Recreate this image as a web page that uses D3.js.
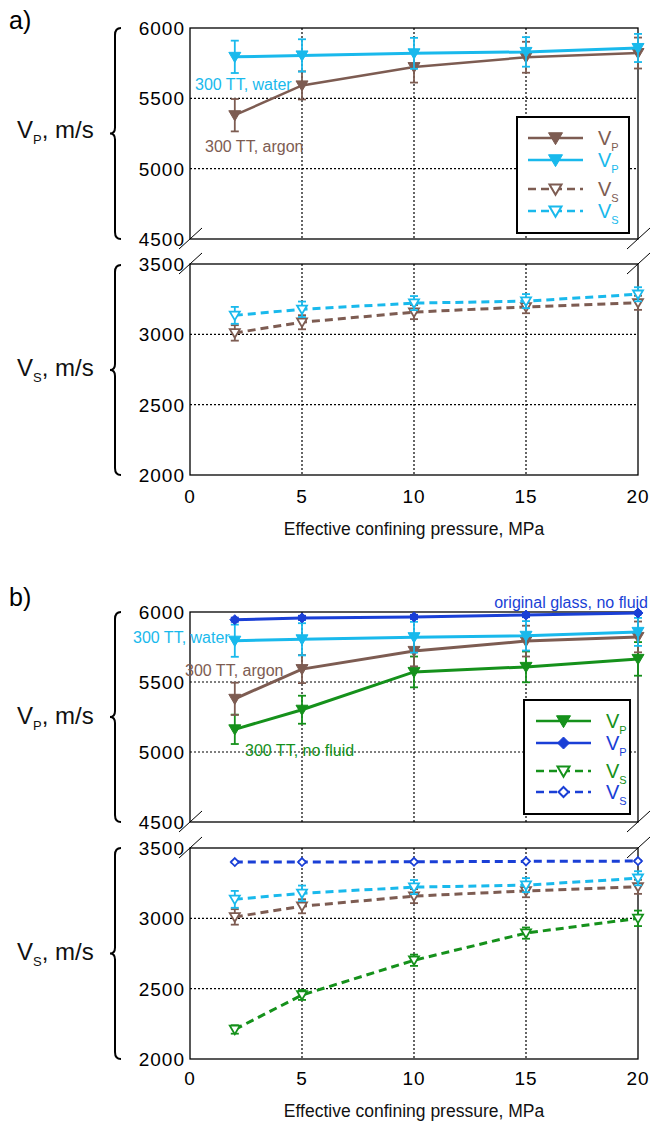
<!DOCTYPE html>
<html><head><meta charset="utf-8">
<script src="https://cdn.jsdelivr.net/npm/d3@7"></script>
<style>
body{margin:0;background:#fff;}
text{font-family:"Liberation Sans",Arial,sans-serif;}
</style></head>
<body><svg id="c" width="651" height="1125"></svg>
<script>
// ---------- data ----------
const pressure = [2, 5, 10, 15, 20];
const xTicks = [0, 5, 10, 15, 20];
const vpTicks = [4500, 5000, 5500, 6000];
const vsTicks = [2000, 2500, 3000, 3500];

const vpWater = [5795, 5805, 5820, 5830, 5858];
const vpWaterErr = [115, 115, 110, 105, 100];
const vpArgon = [5380, 5592, 5722, 5792, 5822];
const vpArgonErr = [115, 100, 110, 110, 110];
const vsWater = [3135, 3178, 3222, 3236, 3285];
const vsWaterErr = [60, 55, 50, 50, 50];
const vsArgon = [3010, 3086, 3158, 3195, 3224];
const vsArgonErr = [55, 50, 50, 45, 50];
const vpDry = [5162, 5302, 5572, 5608, 5665];
const vpDryErr = [105, 100, 110, 110, 120];
const vsDry = [2210, 2455, 2702, 2895, 3000];
const vsDryErr = [30, 35, 40, 40, 55];
const vpGlass = [5945, 5958, 5965, 5978, 5993];
const vpGlassErr = [15, 15, 15, 15, 10];
const vsGlass = [3400, 3400, 3402, 3405, 3407];
const vsGlassErr = [5, 5, 5, 5, 5];

const C = {brown:"#7d5c52", cyan:"#19b9ec", green:"#15911b", blue:"#1a3fd6"};

const svg = d3.select("#c");
const X0 = 190, X1 = 638;
const x = d3.scaleLinear().domain([0, 20]).range([X0, X1]);

function tri(s){ return `M${-s},${-s*0.75} L${s},${-s*0.75} L0,${s*0.95} Z`; }
function dia(s){ return `M0,${-s} L${s},0 L0,${s} L${-s},0 Z`; }

function drawSub(top, bot, ticks, series){
  const y = d3.scaleLinear().domain([ticks[0], ticks[ticks.length-1]]).range([bot, top]);
  const g = svg.append("g");
  g.selectAll(".gx").data(xTicks.slice(1, -1)).join("line")
    .attr("x1", d=>x(d)).attr("x2", d=>x(d)).attr("y1", top).attr("y2", bot)
    .attr("stroke","#000").attr("stroke-width",1.2).attr("stroke-dasharray","2,2");
  g.selectAll(".gy").data(ticks.slice(1, -1)).join("line")
    .attr("x1", X0).attr("x2", X1).attr("y1", d=>y(d)).attr("y2", d=>y(d))
    .attr("stroke","#000").attr("stroke-width",1.2).attr("stroke-dasharray","2,2");
  g.append("rect").attr("x",X0).attr("y",top).attr("width",X1-X0).attr("height",bot-top)
    .attr("fill","none").attr("stroke","#000").attr("stroke-width",1.3);
  g.selectAll(".yt").data(ticks).join("text")
    .attr("x", X0-5).attr("y", d=>y(d)+7).attr("text-anchor","end")
    .attr("font-size",19).attr("letter-spacing",1).text(d=>d);
  const line = d3.line().x((d,i)=>x(pressure[i])).y(d=>y(d));
  series.forEach(s=>{
    g.append("path").attr("d", line(s.v)).attr("fill","none")
      .attr("stroke", s.color).attr("stroke-width", s.w||3)
      .attr("stroke-dasharray", s.dash ? "8,5" : null);
    s.v.forEach((v,i)=>{
      const e = s.e[i], cx = x(pressure[i]);
      g.append("line").attr("x1",cx).attr("x2",cx).attr("y1",y(v-e)).attr("y2",y(v+e))
        .attr("stroke",s.color).attr("stroke-width",1.8);
      [v-e, v+e].forEach(t=>g.append("line").attr("x1",cx-4).attr("x2",cx+4)
        .attr("y1",y(t)).attr("y2",y(t)).attr("stroke",s.color).attr("stroke-width",1.8));
      g.append("path").attr("transform",`translate(${cx},${y(v)})`)
        .attr("d", s.m==="d" ? dia(s.open?4:5) : tri(s.open?5:6))
        .attr("fill", s.open ? "#fff" : s.color).attr("stroke", s.color).attr("stroke-width", s.open?1.8:1);
    });
  });
  return y;
}

function brace(xr, y0, y1){
  const ym = (y0+y1)/2, xm = xr-6, xt = xr-11;
  svg.append("path").attr("d",
    `M${xr},${y0} Q${xm},${y0} ${xm},${y0+7} L${xm},${ym-6} Q${xm},${ym} ${xt},${ym} Q${xm},${ym} ${xm},${ym+6} L${xm},${y1-7} Q${xm},${y1} ${xr},${y1}`)
    .attr("fill","none").attr("stroke","#000").attr("stroke-width",2);
}

function ylabel(cy, sub){
  const t = svg.append("text").attr("x", 17).attr("y", cy+8).attr("font-size",24).attr("fill","#111");
  t.append("tspan").text("V");
  t.append("tspan").attr("font-size",13).attr("dy",6).text(sub);
  t.append("tspan").attr("dy",-6).text(", m/s");
}

function breaks(yb, yt){
  [[X0, yb], [X0, yt], [X1, yb], [X1, yt]].forEach(([bx,by])=>{
    svg.append("line").attr("x1",bx-11).attr("y1",by+10).attr("x2",bx+12).attr("y2",by-11)
      .attr("stroke","#000").attr("stroke-width",1);
  });
}

function legend(bx, by, bw, bh, lx0, lx1, rows, items){
  const g = svg.append("g");
  g.append("rect").attr("x",bx).attr("y",by).attr("width",bw).attr("height",bh)
    .attr("fill","#fff").attr("stroke","#000").attr("stroke-width",2);
  items.forEach((it,i)=>{
    const ry = rows[i], mx = (lx0+lx1)/2;
    g.append("line").attr("x1",lx0).attr("x2",lx1).attr("y1",ry).attr("y2",ry)
      .attr("stroke",it.color).attr("stroke-width",2.5).attr("stroke-dasharray", it.dash?"8,5":null);
    g.append("path").attr("transform",`translate(${mx},${ry})`)
      .attr("d", it.m==="d" ? dia(it.open?5:6) : tri(it.open?6:7))
      .attr("fill", it.open?"#fff":it.color).attr("stroke",it.color).attr("stroke-width",it.open?2:1);
    const t = g.append("text").attr("x", lx1+15).attr("y", ry+7).attr("font-size",20).attr("fill",it.color);
    t.append("tspan").text("V");
    t.append("tspan").attr("font-size",11).attr("dy",6).text(it.sub);
  });
}

function xaxis(ylab, ytitle){
  svg.selectAll(null).data(xTicks).join("text")
    .attr("x", d=>x(d)).attr("y", ylab).attr("text-anchor","middle")
    .attr("font-size",19).attr("letter-spacing",1).text(d=>d);
  svg.append("text").attr("x", (X0+X1)/2).attr("y", ytitle).attr("text-anchor","middle")
    .attr("font-size",17.5).attr("fill","#111").text("Effective confining pressure, MPa");
}

function note(xp, yp, txt, col, anchor){
  svg.append("text").attr("x",xp).attr("y",yp).attr("font-size",16).attr("fill",col)
    .attr("text-anchor",anchor||"start").text(txt);
}

// ---------- panel a ----------
svg.append("text").attr("x",9).attr("y",29).attr("font-size",25).text("a)");
drawSub(28, 239, vpTicks, [
  {v:vpArgon, e:vpArgonErr, color:C.brown, w:2.5},
  {v:vpWater, e:vpWaterErr, color:C.cyan, w:3}
]);
drawSub(264, 475, vsTicks, [
  {v:vsArgon, e:vsArgonErr, color:C.brown, dash:true, open:true},
  {v:vsWater, e:vsWaterErr, color:C.cyan, dash:true, open:true}
]);
breaks(239, 264);
brace(121, 28, 239); brace(121, 265, 475);
ylabel(130, "P"); ylabel(368, "S");
xaxis(503, 535);
note(195, 90, "300 TT, water", C.cyan);
note(205, 152, "300 TT, argon", C.brown);
legend(517, 117, 112, 116, 528, 583, [138,160,189,211], [
  {color:C.brown, sub:"P"},
  {color:C.cyan, sub:"P"},
  {color:C.brown, sub:"S", dash:true, open:true},
  {color:C.cyan, sub:"S", dash:true, open:true}
]);

// ---------- panel b ----------
svg.append("text").attr("x",9).attr("y",606).attr("font-size",25).text("b)");
drawSub(612, 822, vpTicks, [
  {v:vpDry, e:vpDryErr, color:C.green, w:3},
  {v:vpArgon, e:vpArgonErr, color:C.brown, w:3},
  {v:vpWater, e:vpWaterErr, color:C.cyan, w:3},
  {v:vpGlass, e:vpGlassErr, color:C.blue, w:3, m:"d"}
]);
drawSub(848, 1059, vsTicks, [
  {v:vsDry, e:vsDryErr, color:C.green, dash:true, open:true},
  {v:vsArgon, e:vsArgonErr, color:C.brown, dash:true, open:true},
  {v:vsWater, e:vsWaterErr, color:C.cyan, dash:true, open:true},
  {v:vsGlass, e:vsGlassErr, color:C.blue, dash:true, open:true, m:"d"}
]);
breaks(822, 848);
brace(121, 612, 822); brace(121, 848, 1059);
ylabel(716, "P"); ylabel(952, "S");
xaxis(1085, 1117);
note(133, 643, "300 TT, water", C.cyan);
note(185, 676, "300 TT, argon", C.brown);
note(245, 756, "300 TT, no fluid", C.green);
note(648, 608, "original glass, no fluid", C.blue, "end");
legend(524, 700, 106, 114, 536, 591, [721,743,771,792], [
  {color:C.green, sub:"P"},
  {color:C.blue, sub:"P", m:"d"},
  {color:C.green, sub:"S", dash:true, open:true},
  {color:C.blue, sub:"S", dash:true, open:true, m:"d"}
]);
</script></body></html>
